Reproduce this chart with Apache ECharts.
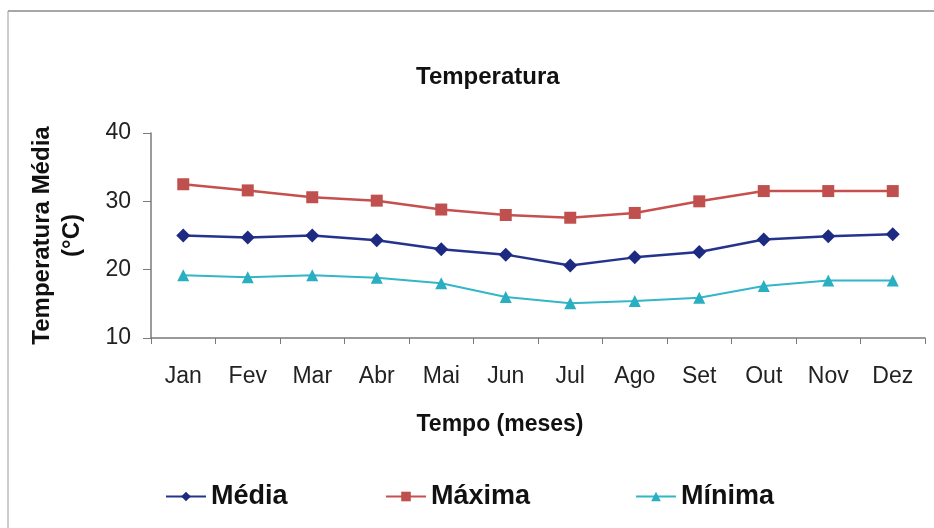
<!DOCTYPE html>
<html>
<head>
<meta charset="utf-8">
<script src="https://cdn.jsdelivr.net/npm/echarts@6/dist/echarts.min.js"></script>
<style>
html,body{margin:0;padding:0;background:#fff;}
#chart{width:934px;height:528px;}
</style>
</head>
<body>
<div id="chart"></div>
<script>
var months = ['Jan','Fev','Mar','Abr','Mai','Jun','Jul','Ago','Set','Out','Nov','Dez'];
var media  = [25.0, 24.7, 25.0, 24.3, 23.0, 22.2, 20.6, 21.8, 22.6, 24.4, 24.9, 25.2];
var maxima = [32.5, 31.6, 30.6, 30.1, 28.8, 28.0, 27.6, 28.3, 30.0, 31.5, 31.5, 31.5];
var minima = [19.2, 18.9, 19.2, 18.8, 18.0, 16.0, 15.1, 15.4, 15.9, 17.6, 18.4, 18.4];
var seriesNames = ['Média','Máxima','Mínima'];
var titleText = 'Temperatura';
var xName = 'Tempo (meses)';
var yName = 'Temperatura Média\n(°C)';

var FONT = '"Liberation Sans", Arial, sans-serif';
var colors = ['#24348c', '#c6504e', '#33b6c8'];
var chart = echarts.init(document.getElementById('chart'), null, {renderer:'canvas'});

function legendAt(name, left) {
  return {
    data: [name], left: left, top: 478, itemWidth: 40, itemHeight: 12, itemGap: 0,
    textStyle: {fontFamily: FONT, fontWeight: 'bold', fontSize: 27, color: '#111'}
  };
}

chart.setOption({
  animation: false,
  backgroundColor: '#fff',
  color: colors,
  title: {
    text: titleText, left: 411, top: 60,
    textStyle: {fontFamily: FONT, fontWeight: 'bold', fontSize: 24, color: '#111'}
  },
  legend: [legendAt(seriesNames[0], 160), legendAt(seriesNames[1], 380), legendAt(seriesNames[2], 630)],
  graphic: [
    {type:'line', shape:{x1:8, y1:11, x2:934, y2:11}, style:{stroke:'#8a8a8a', lineWidth:1.5}},
    {type:'line', shape:{x1:8, y1:11, x2:8, y2:528}, style:{stroke:'#9a9a9a', lineWidth:1}}
  ],
  grid: {left: 151, right: 9, top: 133, bottom: 190, containLabel: false},
  xAxis: {
    type: 'category', data: months, boundaryGap: true,
    name: xName, nameLocation: 'middle', nameGap: 75,
    nameTextStyle: {fontFamily: FONT, fontWeight: 'bold', fontSize: 23, color: '#111', padding: [0, 76, 0, 0]},
    axisLine: {lineStyle: {color: '#7a7a7a', width: 1.5}},
    axisTick: {show: true, length: 6, lineStyle: {color: '#7a7a7a'}},
    axisLabel: {fontFamily: FONT, fontSize: 23, color: '#222', margin: 27}
  },
  yAxis: {
    type: 'value', min: 10, max: 40, interval: 10,
    name: yName, nameLocation: 'middle', nameGap: 64, nameRotate: 90,
    nameTextStyle: {fontFamily: FONT, fontWeight: 'bold', fontSize: 24, color: '#111', lineHeight: 30, align: 'center'},
    axisLine: {show: true, lineStyle: {color: '#7a7a7a', width: 1.5}},
    axisTick: {show: true, length: 8, lineStyle: {color: '#7a7a7a'}},
    splitLine: {show: false},
    axisLabel: {fontFamily: FONT, fontSize: 23, color: '#222', margin: 20}
  },
  series: [
    {name: seriesNames[0], type: 'line', data: media, symbol: 'diamond', symbolSize: 14,
     lineStyle: {width: 2.5, color: colors[0]}, itemStyle: {color: '#1c2a82'}},
    {name: seriesNames[1], type: 'line', data: maxima, symbol: 'rect', symbolSize: 12,
     lineStyle: {width: 2.5, color: colors[1]}, itemStyle: {color: '#c0504d'}},
    {name: seriesNames[2], type: 'line', data: minima, symbol: 'triangle', symbolSize: 12,
     lineStyle: {width: 2, color: colors[2]}, itemStyle: {color: '#2aaec2'}}
  ]
});
</script>
</body>
</html>
